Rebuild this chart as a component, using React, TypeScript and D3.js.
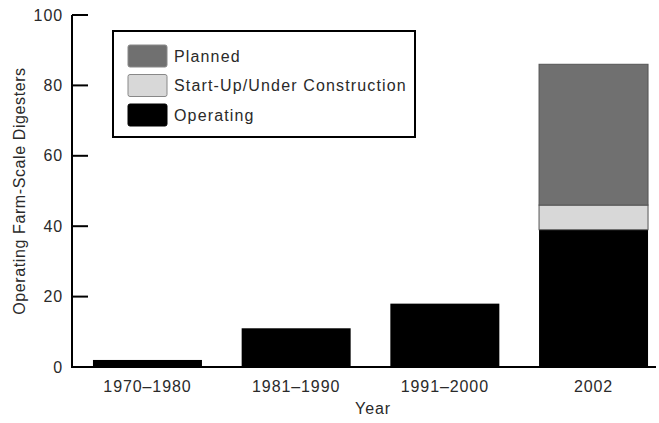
import React from "react";
import { scaleBand, scaleLinear, stack } from "d3";

const periods = ["1970–1980", "1981–1990", "1991–2000", "2002"];
const operating = [2, 11, 18, 39];
const startUp = [0, 0, 0, 7];
const planned = [0, 0, 0, 40];
const yTicks = [0, 20, 40, 60, 80, 100];

const seriesKeys = ["operating", "startUp", "planned"];
const seriesLabels: Record<string, string> = {
  planned: "Planned",
  startUp: "Start-Up/Under Construction",
  operating: "Operating",
};
const colors: Record<string, string> = {
  operating: "#000000",
  startUp: "#d8d8d8",
  planned: "#707070",
};
const legendOrder = ["planned", "startUp", "operating"];

const W = 659;
const H = 423;
const margin = { top: 15, right: 0, bottom: 56, left: 72 };
const font = "Liberation Sans, Arial, sans-serif";
const textColor = "#2a2a2a";
const fs = 16;
const ls = 0.9;

export default function App() {
  const rows = periods.map((p, i) => ({
    period: p,
    operating: operating[i],
    startUp: startUp[i],
    planned: planned[i],
  }));
  const layers = stack<any>().keys(seriesKeys)(rows);

  const y = scaleLinear()
    .domain([0, 100])
    .range([H - margin.bottom, margin.top]);
  const x = scaleBand()
    .domain(periods)
    .range([margin.left, 669])
    .paddingInner(0.267)
    .paddingOuter(0.141);

  const y0 = y(0);

  return (
    <svg
      width={W}
      height={H}
      style={{ position: "absolute", left: 0, top: 0, background: "#fff" }}
      fontFamily={font}
      fontSize={fs}
      letterSpacing={ls}
      fill={textColor}
    >
      {/* bars */}
      {layers.map((layer) => (
        <g key={layer.key}>
          {layer.map((d, i) =>
            d[1] - d[0] > 0 ? (
              <rect
                key={i}
                x={x(periods[i])}
                y={y(d[1])}
                width={x.bandwidth()}
                height={y(d[0]) - y(d[1])}
                fill={colors[layer.key]}
                stroke={layer.key === "operating" ? "none" : "#555"}
                strokeWidth={1}
              />
            ) : null
          )}
        </g>
      ))}

      {/* y axis */}
      <line x1={margin.left} x2={margin.left} y1={y(100)} y2={y0 + 1} stroke="#000" strokeWidth={2} />
      {yTicks.map((t) => (
        <g key={t}>
          <line x1={margin.left} x2={margin.left + 16} y1={y(t)} y2={y(t)} stroke="#000" strokeWidth={2} />
          <text x={margin.left - 9} y={y(t)} dy="0.35em" textAnchor="end">
            {t}
          </text>
        </g>
      ))}
      <text
        transform={`translate(25,${(y(0) + y(100)) / 2}) rotate(-90)`}
        textAnchor="middle"
        letterSpacing={0.6}
      >
        Operating Farm-Scale Digesters
      </text>

      {/* x axis */}
      <line x1={margin.left} x2={656} y1={y0} y2={y0} stroke="#000" strokeWidth={2} />
      {periods.map((p) => (
        <text key={p} x={(x(p) ?? 0) + x.bandwidth() / 2} y={y0 + 25} textAnchor="middle">
          {p}
        </text>
      ))}
      <text x={373} y={y0 + 47} textAnchor="middle">
        Year
      </text>

      {/* legend */}
      <rect x={113} y={31} width={302} height={106} fill="#fff" stroke="#000" strokeWidth={2} />
      {legendOrder.map((k, i) => (
        <g key={k} transform={`translate(128,${45 + i * 29.5})`}>
          <rect width={39} height={22} rx={2} fill={colors[k]} stroke={k === "operating" ? "#000" : "#888"} />
          <text x={46} y={11} dy="0.35em" letterSpacing={1.15}>
            {seriesLabels[k]}
          </text>
        </g>
      ))}
    </svg>
  );
}
